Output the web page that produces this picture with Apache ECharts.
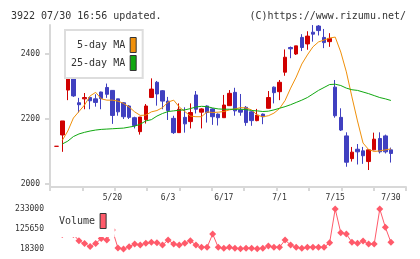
<!DOCTYPE html>
<html>
<head>
<meta charset="utf-8">
<script src="https://cdn.jsdelivr.net/npm/echarts@6/dist/echarts.min.js"></script>
<style>
  html, body { margin: 0; padding: 0; background: #fff; }
  #main { width: 420px; height: 259px; }
</style>
</head>
<body>
<div id="main"></div>
<script>
// dates (trading days)
var dates = ['5/2','5/7','5/8','5/9','5/12','5/13','5/14','5/15','5/16','5/19','5/20','5/21','5/22','5/23','5/26','5/27','5/28','5/29','5/30',
  '6/2','6/3','6/4','6/5','6/6','6/9','6/10','6/11','6/12','6/13','6/16','6/17','6/18','6/19','6/20','6/23','6/24','6/25','6/26','6/27','6/30',
  '7/1','7/2','7/3','7/4','7/7','7/8','7/9','7/10','7/11','7/14','7/15','7/16','7/17','7/18','7/22','7/23','7/24','7/25','7/28','7/29','7/30'];
var labelDays = ['5/20','6/3','6/17','7/1','7/15','7/30'];

var opens  = [2116,2151,2289,2392,2250,2262,2266,2262,2283,2297,2288,2262,2250,2240,2204,2161,2198,2266,2313,2287,2255,2202,2158,2205,2192,2274,2221,2240,2231,2215,2204,2241,2282,2228,2236,2222,2195,2215,2233,2298,2284,2344,2420,2400,2451,2431,2467,2486,2451,2438,2298,2205,2148,2078,2107,2102,2069,2105,2140,2148,2105];
var closes = [2116,2194,2373,2271,2244,2266,2256,2251,2263,2276,2211,2222,2207,2205,2180,2206,2240,2292,2277,2255,2226,2158,2230,2185,2220,2230,2231,2220,2207,2204,2243,2279,2225,2221,2189,2195,2212,2207,2266,2281,2313,2390,2416,2425,2420,2455,2461,2472,2435,2448,2210,2166,2067,2098,2099,2087,2105,2138,2099,2099,2094];
var lows   = [2116,2099,2258,2268,2220,2230,2230,2238,2230,2265,2185,2210,2200,2200,2171,2152,2186,2266,2241,2230,2197,2154,2158,2158,2171,2217,2171,2189,2182,2180,2204,2241,2210,2210,2179,2179,2193,2184,2232,2248,2258,2333,2387,2397,2409,2413,2438,2457,2418,2422,2204,2163,2053,2069,2060,2062,2043,2104,2094,2094,2066];
var highs  = [2116,2194,2378,2392,2265,2280,2268,2276,2284,2309,2289,2262,2252,2243,2207,2206,2246,2325,2317,2289,2268,2210,2248,2236,2248,2286,2233,2242,2233,2217,2274,2289,2296,2277,2240,2224,2231,2217,2286,2300,2320,2414,2423,2425,2461,2470,2489,2489,2477,2464,2320,2233,2159,2114,2123,2114,2107,2158,2159,2152,2112];

var ma5  = ['-',2134,2163,2203,2223,2243,2271,2282,2262,2258,2258,2255,2248,2237,2222,2211,2212,2222,2226,2235,2252,2258,2237,2223,2209,2207,2207,2222,2220,2221,2223,2228,2231,2235,2234,2228,2212,2207,2210,2218,2232,2257,2295,2329,2369,2397,2422,2437,2443,2449,2452,2406,2345,2268,2194,2126,2106,2100,2102,2105,2108];
var ma25 = ['-',2123,2132,2146,2154,2159,2163,2166,2168,2169,2170,2171,2172,2175,2178,2184,2194,2198,2209,2217,2223,2225,2227,2228,2232,2237,2239,2238,2234,2231,2230,2230,2230,2230,2229,2226,2225,2223,2224,2228,2233,2238,2244,2251,2258,2266,2277,2288,2297,2306,2307,2303,2295,2290,2288,2283,2278,2272,2266,2262,2257];

var volume = [120300,96100,147100,96100,62850,47800,31700,47800,74660,66600,120300,23700,18300,30650,45140,39770,48900,54260,52100,39770,66600,45140,39770,48900,62850,39770,27400,27400,98800,27400,22060,27400,22060,19000,22060,22060,19000,22060,34400,27400,27400,66600,39770,27400,22060,27400,27400,27400,27400,52100,233000,105800,98800,54260,48900,61240,45140,45140,233000,134800,54260];
var volTicks = [18300, 125650, 233000];

var candles = [];
for (var i = 0; i < dates.length; i++) {
  candles.push([opens[i], closes[i], lows[i], highs[i]]);
}

var mono = 'DejaVu Sans Mono';
var axisGray = '#d8d8d8';
var txt = '#333';
function plain(v) { return String(Math.round(v)); }

var myChart = echarts.init(document.getElementById('main'));
myChart.setOption({
  animation: false,
  backgroundColor: '#fff',
  title: [
    { text: '3922 07/30 16:56 updated.', left: 6, top: 6, textStyle: { fontFamily: mono, fontSize: 10, fontWeight: 'normal', color: txt } },
    { text: '(C)https://www.rizumu.net/', right: 9, top: 6, textStyle: { fontFamily: mono, fontSize: 10, fontWeight: 'normal', color: txt } }
  ],
  legend: [
    {
      data: ['5-day MA', '25-day MA'],
      orient: 'vertical', left: 65, top: 30, align: 'right',
      icon: 'rect', itemWidth: 6, itemHeight: 15, itemGap: 2,
      padding: [7, 6, 7, 6],
      backgroundColor: '#fff', borderColor: '#ddd', borderWidth: 2,
      itemStyle: { borderColor: '#333', borderWidth: 1 },
      textStyle: { fontFamily: mono, fontSize: 10, color: txt }
    },
    {
      data: ['Volume'],
      left: 52, top: 205, align: 'right',
      icon: 'rect', itemWidth: 6, itemHeight: 15,
      padding: [8, 8, 8, 7],
      backgroundColor: '#fff', borderWidth: 0,
      itemStyle: { borderColor: '#333', borderWidth: 1 },
      textStyle: { fontFamily: mono, fontSize: 10, color: txt }
    }
  ],
  grid: [
    { left: 50, right: 14, top: 25, bottom: 72 },          // frame
    { left: 53.9, width: 339.8, top: 25, height: 159 },    // price
    { left: 53.9, width: 339.8, top: 209, height: 40 }     // volume
  ],
  xAxis: [
    {
      gridIndex: 0, type: 'value', min: 0, max: 11, interval: 1,
      axisLine: { onZero: false, lineStyle: { color: axisGray, width: 2 } },
      axisTick: { length: 4, lineStyle: { color: axisGray, width: 2 } },
      axisLabel: { show: false }, splitLine: { show: false }
    },
    {
      gridIndex: 1, type: 'category', data: dates, boundaryGap: true,
      axisLine: { show: false }, axisTick: { show: false },
      axisLabel: {
        fontFamily: mono, fontSize: 8, color: txt, margin: 10,
        interval: function (idx, val) { return labelDays.indexOf(val) >= 0; }
      }
    },
    {
      gridIndex: 2, type: 'category', data: dates, boundaryGap: true, show: false
    }
  ],
  yAxis: [
    {
      gridIndex: 0, type: 'value', min: 0, max: 1,
      axisLine: { show: true, onZero: false, lineStyle: { color: axisGray, width: 2 } },
      axisTick: { show: false }, axisLabel: { show: false }, splitLine: { show: false }
    },
    {
      gridIndex: 1, type: 'value', min: 2000, max: 2489.2, interval: 200, offset: 3.9,
      axisLine: { show: false },
      axisTick: { show: true, length: 5, lineStyle: { color: axisGray, width: 2 } },
      axisLabel: { fontFamily: mono, fontSize: 8, color: txt, margin: 10, showMaxLabel: false, formatter: plain },
      splitLine: { show: false }
    },
    {
      gridIndex: 2, type: 'value', min: volTicks[0], max: volTicks[2], interval: volTicks[1] - volTicks[0], offset: 3.9,
      axisLine: { show: false }, axisTick: { show: false },
      axisLabel: { fontFamily: mono, fontSize: 8, color: txt, margin: 6, formatter: plain },
      splitLine: { show: false }
    }
  ],
  series: [
    {
      name: 'price', type: 'candlestick', xAxisIndex: 1, yAxisIndex: 1,
      data: candles, barWidth: 4,
      itemStyle: { color: '#d00000', color0: '#4040c0', borderColor: '#d00000', borderColor0: '#4040c0', borderWidth: 1 }
    },
    {
      name: '5-day MA', type: 'line', xAxisIndex: 1, yAxisIndex: 1, data: ma5,
      symbol: 'none', color: '#f0900a', lineStyle: { width: 1 }, z: 3
    },
    {
      name: '25-day MA', type: 'line', xAxisIndex: 1, yAxisIndex: 1, data: ma25,
      symbol: 'none', color: '#10a810', lineStyle: { width: 1 }, z: 3
    },
    {
      name: 'Volume', type: 'line', xAxisIndex: 2, yAxisIndex: 2, data: volume,
      symbol: 'diamond', symbolSize: 7, showAllSymbol: true,
      color: '#ff5a6a', lineStyle: { width: 1 }
    }
  ]
});
</script>
</body>
</html>
